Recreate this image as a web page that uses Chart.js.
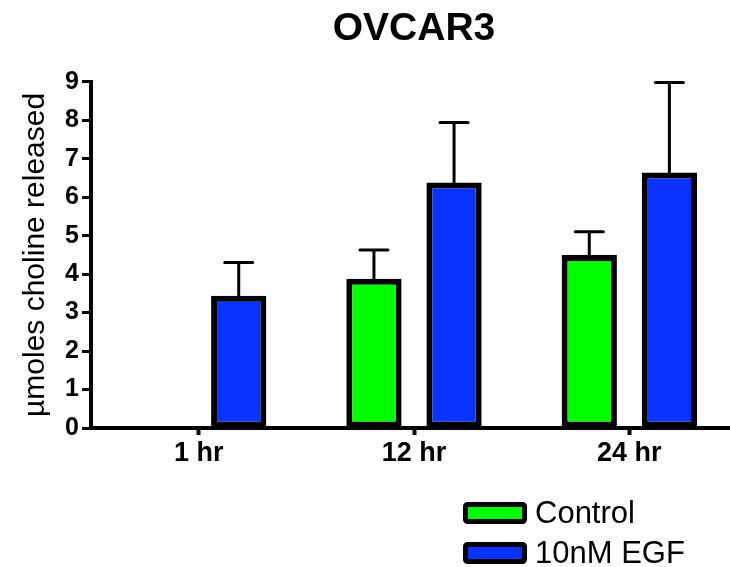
<!DOCTYPE html>
<html>
<head>
<meta charset="utf-8">
<title>OVCAR3</title>
<script src="https://cdn.jsdelivr.net/npm/chart.js@4/dist/chart.umd.min.js"></script>
<style>
  html, body { margin: 0; padding: 0; background: #ffffff; overflow: hidden; }
  #wrap { width: 730px; height: 567px; overflow: hidden; }
</style>
</head>
<body>
<div id="wrap"><canvas id="chart" width="737" height="567"></canvas></div>
<script>
// Time points
const categories = ['1 hr', '12 hr', '24 hr'];

// Series names
const seriesNames = ['Control', '10nM EGF'];

// Mean choline released (µmoles)
const controlMeans = [null, 3.88, 4.5];
const egfMeans = [3.44, 6.38, 6.64];

// Upper error (SD) added above each mean
const controlErrors = [null, 0.75, 0.6];
const egfErrors = [0.86, 1.56, 2.34];

// Y axis tick values
const yTicks = [0, 1, 2, 3, 4, 5, 6, 7, 8, 9];

const FONT = "'Liberation Sans', Arial, Helvetica, sans-serif";
const colors = ['#00ff00', '#0a32ff'];

// Upper-only error bars with caps, drawn from each bar top
const errorBars = {
  id: 'errorBars',
  afterDatasetsDraw(chart) {
    const ctx = chart.ctx;
    const yScale = chart.scales.y;
    chart.data.datasets.forEach((ds, di) => {
      const meta = chart.getDatasetMeta(di);
      meta.data.forEach((bar, i) => {
        const v = ds.data[i];
        const e = ds.errors[i];
        if (v == null || e == null) return;
        const yTop = yScale.getPixelForValue(v + e);
        const yBase = yScale.getPixelForValue(v);
        ctx.save();
        ctx.strokeStyle = '#000';
        ctx.lineWidth = 3;
        ctx.lineCap = 'round';
        ctx.beginPath();
        ctx.moveTo(bar.x, yBase);
        ctx.lineTo(bar.x, yTop);
        ctx.moveTo(bar.x - 14, yTop);
        ctx.lineTo(bar.x + 14, yTop);
        ctx.stroke();
        ctx.restore();
      });
    });
  }
};

// Stacked legend in the lower right corner
const stackedLegend = {
  id: 'stackedLegend',
  afterDraw(chart) {
    const ctx = chart.ctx;
    const x0 = 463, rowY = [513, 553];
    const w = 64, h = 22;
    chart.data.datasets.forEach((ds, i) => {
      const cy = rowY[i];
      ctx.save();
      ctx.fillStyle = ds.backgroundColor;
      ctx.strokeStyle = '#000';
      ctx.lineWidth = 5;
      ctx.lineJoin = 'round';
      ctx.beginPath();
      ctx.roundRect(x0 + 2.5, cy - h / 2 + 2.5, w - 5, h - 5, 2);
      ctx.fill();
      ctx.stroke();
      ctx.fillStyle = '#000';
      ctx.font = '31px ' + FONT;
      ctx.textAlign = 'left';
      ctx.textBaseline = 'middle';
      ctx.fillText(ds.label, x0 + w + 8, cy + 1);
      ctx.restore();
    });
  }
};

new Chart(document.getElementById('chart'), {
  type: 'bar',
  data: {
    labels: categories,
    datasets: [
      {
        label: seriesNames[0],
        data: controlMeans,
        errors: controlErrors,
        backgroundColor: colors[0],
        borderColor: '#000',
        borderWidth: 6,
        borderSkipped: false,
        categoryPercentage: 0.744,
        barPercentage: 0.69
      },
      {
        label: seriesNames[1],
        data: egfMeans,
        errors: egfErrors,
        backgroundColor: colors[1],
        borderColor: '#000',
        borderWidth: 6,
        borderSkipped: false,
        categoryPercentage: 0.744,
        barPercentage: 0.69
      }
    ]
  },
  options: {
    responsive: false,
    animation: false,
    devicePixelRatio: 1,
    layout: { padding: { left: 0, right: 0, top: 0, bottom: 92 } },
    plugins: {
      legend: { display: false },
      tooltip: { enabled: false },
      title: {
        display: true,
        text: 'OVCAR3',
        fullSize: false,
        color: '#000',
        font: { family: FONT, size: 39, weight: 'bold' },
        padding: { top: 6, bottom: 29 }
      }
    },
    scales: {
      x: {
        afterFit(scale) { scale.height = 47; },
        grid: {
          display: true,
          offset: false,
          drawOnChartArea: false,
          drawTicks: true,
          tickLength: 7,
          tickWidth: 4,
          tickColor: '#000'
        },
        border: { display: true, color: '#000', width: 4 },
        ticks: {
          color: '#000',
          padding: 2,
          font: { family: FONT, size: 27, weight: 'bold' }
        }
      },
      y: {
        min: 0,
        max: 9,
        afterFit(scale) { scale.width = 91; },
        afterBuildTicks(scale) { scale.ticks = yTicks.map(v => ({ value: v })); },
        grid: {
          display: true,
          drawOnChartArea: false,
          drawTicks: true,
          tickLength: 9,
          tickWidth: 3,
          tickColor: '#000'
        },
        border: { display: true, color: '#000', width: 4 },
        ticks: {
          color: '#000',
          padding: 3,
          font: { family: FONT, size: 25, weight: 'bold' }
        },
        title: {
          display: true,
          text: 'µmoles choline released',
          color: '#000',
          padding: { top: 18, bottom: 0 },
          font: { family: FONT, size: 30 }
        }
      }
    }
  },
  plugins: [errorBars, stackedLegend]
});
</script>
</body>
</html>
